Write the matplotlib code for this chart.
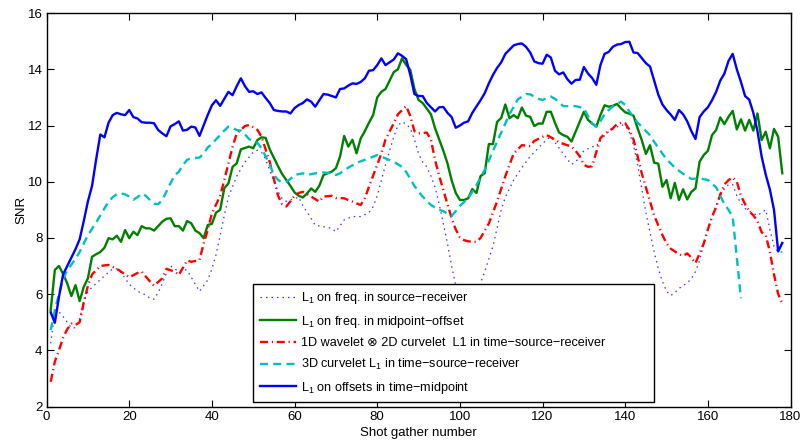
import numpy as np
import matplotlib
matplotlib.use("Agg")
import matplotlib.pyplot as plt

plt.rcParams['font.family'] = ['Liberation Sans', 'DejaVu Sans']
plt.rcParams['mathtext.fontset'] = 'custom'
plt.rcParams['mathtext.rm'] = 'Liberation Sans'
plt.rcParams['mathtext.it'] = 'Liberation Sans:italic'

# ---- data: SNR per shot gather for each reconstruction scheme ----
src_rec_shot = [1, 2, 3, 4, 5, 6, 7, 8, 9, 10, 12, 14, 16, 17, 18, 20, 22, 24, 25, 26,
                27, 28, 29, 30, 31, 32, 33, 34, 35, 36, 37, 38, 39, 40, 41, 42, 43, 44, 46, 48,
                50, 51, 52, 53, 54, 55, 56, 57, 58, 59, 60, 61, 62, 64, 65, 67, 69, 70, 72, 74,
                76, 78, 79, 80, 81, 82, 83, 84, 85, 86, 87, 88, 89, 90, 91, 92, 93, 94, 95, 96,
                97, 98, 99, 100, 102, 104, 105, 106, 108, 110, 111, 113, 115, 117, 119, 121, 122, 123, 125, 126,
                127, 128, 129, 130, 132, 133, 134, 136, 138, 139, 140, 141, 142, 143, 144, 145, 146, 147, 148, 149,
                150, 151, 152, 153, 155, 156, 157, 158, 159, 160, 161, 162, 163, 164, 165, 166, 167, 168, 169, 170,
                171, 172, 173, 174, 175, 176, 177, 178]
src_rec_snr = [4.25, 5.43, 5.37, 5.2, 5.0, 4.8, 4.8, 5.1, 5.75, 6.1, 6.38, 6.65, 6.9, 6.9, 6.78, 6.35, 6.1, 5.97, 5.85, 5.82,
               6.05, 6.38, 6.74, 7.0, 6.9, 6.8, 6.88, 6.85, 6.6, 6.35, 6.1, 6.3, 6.5, 6.9, 7.4, 8.1, 8.8, 9.45, 10.2, 10.7,
               11.05, 11.12, 11.05, 10.8, 10.4, 10.0, 9.65, 9.4, 9.3, 9.35, 9.4, 9.45, 9.15, 8.7, 8.45, 8.4, 8.34, 8.22, 8.64, 8.76,
               8.76, 8.9, 9.11, 9.5, 10.05, 10.6, 11.1, 11.6, 12.0, 12.13, 12.05, 11.9, 11.5, 11.0, 10.7, 10.53, 10.2, 9.8, 9.2, 8.5,
               7.8, 7.0, 6.3, 5.8, 5.4, 5.8, 6.4, 6.8, 7.7, 9.0, 9.45, 10.06, 10.5, 10.9, 11.2, 11.5, 11.6, 11.4, 11.0, 10.8,
               10.62, 10.7, 10.9, 11.1, 11.25, 11.25, 11.5, 11.78, 11.95, 12.02, 12.0, 11.75, 11.3, 10.6, 9.75, 8.9, 8.2, 7.5, 6.9, 6.45,
               6.1, 5.95, 6.05, 6.2, 6.4, 6.55, 6.8, 7.2, 7.8, 8.3, 8.76, 9.15, 9.5, 9.75, 9.9, 9.9, 9.5, 9.23, 9.05, 8.95,
               8.87, 8.8, 8.9, 9.0, 8.3, 7.7, 7.5, 7.5]

mid_off_shot = list(range(1, 179))
mid_off_snr = [5.43, 6.86, 7.0, 6.72, 6.38, 5.93, 6.32, 5.75, 6.26, 6.56,
               7.33, 7.42, 7.5, 7.65, 7.99, 7.95, 8.08, 7.86, 8.28, 7.99,
               8.22, 8.1, 8.42, 8.34, 8.34, 8.26, 8.42, 8.58, 8.68, 8.7,
               8.42, 8.42, 8.26, 8.6, 8.52, 8.26, 8.17, 7.99, 8.46, 8.5,
               8.9, 9.0, 9.77, 9.94, 10.53, 10.65, 11.15, 11.2, 11.25, 11.19,
               11.48, 11.58, 11.56, 11.15, 10.85, 10.55, 10.27, 10.06, 9.85, 9.62,
               9.5, 9.44, 9.58, 9.76, 9.64, 9.86, 10.24, 10.3, 10.36, 10.48,
               10.89, 11.63, 11.25, 11.49, 11.01, 11.54, 11.8, 12.1, 12.37, 13.0,
               13.2, 13.3, 13.6, 13.9, 14.0, 14.39, 14.16, 13.98, 13.3, 12.91,
               12.8, 12.6, 12.4, 11.9, 11.5, 11.1, 10.65, 10.05, 9.6, 9.35,
               9.35, 9.41, 9.74, 9.6, 10.2, 10.3, 11.34, 11.34, 12.13, 12.27,
               12.75, 12.26, 12.37, 12.26, 12.64, 12.35, 12.31, 11.98, 12.07, 12.07,
               12.49, 12.49, 12.1, 11.75, 11.66, 11.6, 11.43, 11.78, 12.13, 12.49,
               12.2, 12.07, 11.96, 12.37, 12.72, 12.67, 12.7, 12.77, 12.61, 12.47,
               12.42, 12.35, 11.9, 11.48, 10.99, 11.3, 10.68, 10.64, 9.82, 10.06,
               9.41, 9.96, 9.35, 9.73, 9.37, 9.64, 9.76, 10.71, 10.95, 11.1,
               11.66, 11.84, 12.29, 12.05, 12.31, 12.52, 11.86, 12.22, 11.82, 12.2,
               11.82, 12.43, 11.48, 11.78, 11.19, 11.88, 11.6, 10.3]

wav_curv_shot = [1, 2, 3, 4, 5, 6, 7, 8, 9, 10, 11, 12, 13, 15, 17, 19, 20, 22, 23, 25,
                 26, 28, 29, 31, 32, 34, 35, 37, 38, 39, 40, 42, 43, 44, 45, 46, 48, 49, 51, 52,
                 53, 54, 55, 56, 57, 58, 59, 60, 61, 62, 64, 66, 67, 69, 70, 72, 74, 76, 77, 78,
                 80, 81, 82, 84, 85, 87, 88, 89, 90, 92, 93, 94, 95, 96, 97, 98, 99, 100, 101, 102,
                 104, 105, 107, 108, 109, 110, 111, 112, 113, 115, 117, 118, 120, 121, 123, 124, 126, 127, 128, 129,
                 130, 131, 132, 133, 134, 135, 137, 138, 139, 140, 141, 142, 143, 144, 145, 146, 147, 148, 149, 150,
                 151, 153, 154, 155, 156, 157, 158, 159, 160, 161, 162, 163, 164, 165, 166, 167, 168, 169, 170, 171,
                 172, 173, 174, 175, 176, 177, 178]
wav_curv_snr = [2.88, 3.6, 4.0, 4.45, 4.75, 4.95, 4.9, 5.0, 5.7, 6.3, 6.7, 6.85, 7.0, 7.04, 6.9, 6.7, 6.6, 6.75, 6.8, 6.45,
                6.3, 6.56, 6.9, 6.8, 6.68, 7.2, 7.15, 7.21, 7.8, 8.28, 8.87, 9.5, 10.06, 10.65, 11.24, 11.72, 11.98, 12.02, 11.85, 11.6,
                11.15, 10.7, 10.1, 9.5, 9.2, 9.12, 9.3, 9.5, 9.6, 9.64, 9.47, 9.29, 9.47, 9.5, 9.42, 9.41, 9.29, 9.17, 9.41, 9.82,
                10.6, 11.0, 11.5, 12.08, 12.4, 12.69, 12.34, 11.8, 11.72, 11.75, 11.49, 10.77, 10.2, 9.7, 9.2, 8.7, 8.3, 8.02, 7.92, 7.88,
                7.86, 8.0, 8.51, 8.9, 9.3, 9.75, 10.2, 10.6, 11.0, 11.3, 11.27, 11.45, 11.6, 11.66, 11.5, 11.4, 11.3, 11.25, 11.1, 10.9,
                10.6, 10.53, 10.55, 11.05, 11.55, 11.7, 11.9, 12.05, 12.1, 12.08, 11.85, 11.5, 10.9, 10.3, 9.8, 9.3, 8.8, 8.45, 8.1, 7.8,
                7.62, 7.42, 7.36, 7.45, 7.3, 7.1, 7.45, 7.8, 8.3, 8.75, 9.1, 9.55, 9.9, 10.06, 10.15, 10.0, 9.5, 9.2, 8.95, 8.8,
                8.6, 8.2, 8.1, 7.5, 6.7, 6.0, 5.67]

curv3d_shot = [1, 2, 3, 4, 5, 6, 7, 8, 9, 10, 12, 14, 15, 16, 17, 18, 19, 20, 21, 22,
               23, 24, 25, 26, 27, 28, 29, 30, 31, 32, 33, 34, 35, 37, 38, 39, 40, 42, 43, 44,
               45, 46, 47, 48, 49, 50, 51, 52, 53, 54, 55, 56, 57, 58, 59, 60, 62, 63, 65, 67,
               69, 70, 71, 73, 75, 77, 79, 80, 82, 84, 86, 87, 88, 89, 90, 91, 93, 95, 96, 98,
               99, 100, 102, 104, 106, 108, 110, 112, 114, 116, 117, 119, 120, 122, 123, 125, 128, 130, 131, 132,
               133, 134, 135, 136, 137, 139, 140, 141, 142, 143, 144, 146, 147, 149, 150, 152, 154, 156, 158, 160,
               162, 163, 164, 165, 166, 167, 168]
curv3d_snr = [4.72, 5.43, 6.0, 6.55, 6.85, 7.05, 7.25, 7.5, 7.8, 8.1, 8.55, 9.05, 9.29, 9.45, 9.56, 9.58, 9.55, 9.47, 9.36, 9.45,
              9.58, 9.5, 9.35, 9.22, 9.2, 9.35, 9.65, 9.95, 10.24, 10.35, 10.6, 10.78, 10.83, 10.86, 11.0, 11.22, 11.35, 11.66, 11.82, 11.96,
              11.92, 11.84, 11.82, 11.68, 11.52, 11.44, 11.38, 11.2, 10.9, 10.6, 10.25, 10.06, 9.98, 10.0, 10.1, 10.24, 10.3, 10.24, 10.3, 10.33,
              10.3, 10.24, 10.3, 10.5, 10.67, 10.78, 10.89, 10.95, 10.83, 10.71, 10.53, 10.35, 10.1, 9.85, 9.65, 9.47, 9.17, 9.0, 8.95, 8.78,
              8.95, 9.14, 9.41, 9.88, 10.42, 11.1, 11.75, 12.4, 12.93, 13.12, 13.11, 12.95, 12.91, 13.03, 12.95, 12.69, 12.69, 12.62, 12.33, 12.08,
              11.96, 12.15, 12.4, 12.55, 12.68, 12.85, 12.73, 12.5, 12.3, 12.1, 11.96, 11.65, 11.42, 11.0, 10.8, 10.5, 10.28, 10.1, 10.12, 10.06,
              9.8, 9.5, 9.2, 9.0, 8.75, 7.3, 5.85]

offsets_shot = list(range(1, 179))
offsets_snr = [5.35, 4.98, 5.9, 6.7, 7.0, 7.3, 7.6, 7.95, 8.6, 9.3,
               9.85, 10.8, 11.68, 11.58, 12.1, 12.37, 12.45, 12.4, 12.37, 12.55,
               12.3, 12.25, 12.12, 12.1, 12.1, 12.08, 11.84, 11.72, 11.62, 11.97,
               12.05, 12.15, 11.82, 11.85, 11.96, 11.93, 11.63, 12.0, 12.38, 12.72,
               12.9, 12.7, 12.95, 13.2, 13.08, 13.4, 13.68, 13.4, 13.2, 13.22,
               13.12, 13.18, 12.98, 12.8, 12.55, 12.52, 12.5, 12.5, 12.43, 12.62,
               12.73, 12.8, 12.93, 12.85, 12.67, 12.9, 13.12, 13.1, 13.05, 13.0,
               13.3, 13.32, 13.42, 13.5, 13.48, 13.55, 13.68, 13.95, 13.97, 14.15,
               14.39, 14.15, 14.25, 14.35, 14.57, 14.48, 14.36, 13.8, 13.12, 13.05,
               13.05, 12.8, 12.65, 12.5, 12.65, 12.66, 12.45, 12.3, 11.92, 12.0,
               12.1, 12.15, 12.45, 12.68, 12.9, 13.15, 13.5, 13.8, 14.05, 14.25,
               14.55, 14.7, 14.85, 14.9, 14.92, 14.8, 14.6, 14.28, 14.22, 14.2,
               14.52, 14.42, 13.95, 13.82, 13.89, 13.65, 13.49, 13.62, 13.63, 14.08,
               13.85, 13.69, 13.45, 14.15, 14.55, 14.62, 14.8, 14.88, 14.9, 14.97,
               14.98, 14.6, 14.58, 14.4, 14.22, 14.1, 13.6, 13.1, 12.75, 12.55,
               12.39, 12.2, 12.55, 12.4, 12.15, 11.8, 11.52, 12.3, 12.5, 12.65,
               12.9, 13.2, 13.6, 13.85, 14.3, 14.55, 14.0, 13.55, 13.05, 12.92,
               12.45, 11.8, 10.9, 10.25, 9.72, 9.0, 7.52, 7.82]

labels = [
    "L$_1$ on freq. in source\u2212receiver",
    "L$_1$ on freq. in midpoint\u2212offset",
    "1D wavelet \u2297 2D curvelet  L1 in time\u2212source\u2212receiver",
    "3D curvelet L$_1$ in time\u2212source\u2212receiver",
    "L$_1$ on offsets in time\u2212midpoint",
]
x_ticks = list(range(0, 181, 20))
y_ticks = list(range(2, 17, 2))

# ---- figure ----
fig = plt.figure(figsize=(8.03, 4.42), dpi=100)
ax = fig.add_axes([0.058, 0.0803, 0.9265, 0.890])

lw = 1.7
ax.plot(src_rec_shot, src_rec_snr, color=(0.2, 0.2, 1.0), lw=0.9,
        dashes=(1.2, 3.2), label=labels[0])
ax.plot(mid_off_shot, mid_off_snr, color='#008000', lw=lw, label=labels[1])
ax.plot(wav_curv_shot, wav_curv_snr, color='#ff0000', lw=lw,
        dashes=(3.4, 1.6, 0.5, 1.6), label=labels[2])
ax.plot(curv3d_shot, curv3d_snr, color='#00bfbf', lw=lw,
        dashes=(3.4, 2.2), label=labels[3])
ax.plot(offsets_shot, offsets_snr, color='#0000ff', lw=lw, label=labels[4])

ax.set_xlim(0, 180)
ax.set_ylim(2, 16)
ax.set_xticks(x_ticks)
ax.set_yticks(y_ticks)
ax.tick_params(direction='in', top=True, right=True, length=5, width=0.8,
               labelsize=9.5, pad=3)
for s in ax.spines.values():
    s.set_linewidth(1.0)

ax.set_xlabel("Shot gather number", fontsize=9.5, labelpad=3)
ax.set_ylabel("SNR", fontsize=9.5, labelpad=0)

leg = ax.legend(loc='lower left', bbox_to_anchor=(0.2778, 0.0114, 0.5386, 0.3),
                mode='expand', borderaxespad=0, fontsize=9.1, frameon=True,
                fancybox=False, framealpha=1, edgecolor='black',
                handlelength=2.9, handletextpad=0.4, borderpad=0.5,
                labelspacing=0.6)
leg.get_frame().set_linewidth(1.0)
leg.set_zorder(5)

fig.savefig("out.png", dpi=100)
